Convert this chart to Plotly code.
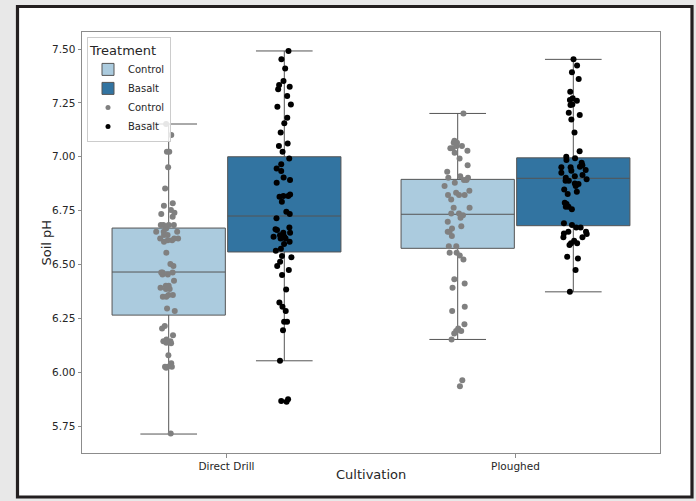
import plotly.graph_objects as go

categories = ["Direct Drill", "Ploughed"]
treatments = ["Control", "Basalt"]

# Box summary statistics (per cultivation)
control_q1 = [6.265, 6.575]
control_median = [6.465, 6.733]
control_q3 = [6.669, 6.895]
control_low = [5.713, 6.152]
control_high = [7.152, 7.201]

basalt_q1 = [6.558, 6.680]
basalt_median = [6.725, 6.900]
basalt_q3 = [7.000, 6.995]
basalt_low = [6.053, 6.373]
basalt_high = [7.491, 7.452]

# Individual soil pH samples (strip points)
dd_control = [7.152, 7.101, 7.023, 7.023, 6.951, 6.853, 6.784, 6.773, 6.753, 6.740,
              6.734, 6.722, 6.683, 6.683, 6.683, 6.683, 6.667, 6.652, 6.652, 6.652,
              6.637, 6.637, 6.621, 6.621, 6.621, 6.613, 6.613, 6.606, 6.555, 6.502,
              6.493, 6.463, 6.463, 6.463, 6.454, 6.454, 6.425, 6.401, 6.401, 6.392,
              6.386, 6.386, 6.358, 6.358, 6.350, 6.350, 6.296, 6.284, 6.214, 6.203,
              6.172, 6.152, 6.144, 6.144, 6.137, 6.134, 6.079, 6.041, 6.025, 6.025,
              6.025, 6.021, 5.716]
dd_basalt = [7.491, 7.452, 7.410, 7.352, 7.333, 7.325, 7.313, 7.282, 7.243, 7.232,
             7.181, 7.155, 7.112, 7.062, 7.050, 7.023, 6.992, 6.965, 6.946, 6.934,
             6.904, 6.892, 6.879, 6.825, 6.818, 6.818, 6.814, 6.791, 6.745, 6.734,
             6.714, 6.672, 6.664, 6.660, 6.647, 6.647, 6.636, 6.629, 6.629, 6.621,
             6.621, 6.606, 6.595, 6.573, 6.564, 6.539, 6.533, 6.513, 6.493, 6.474,
             6.451, 6.384, 6.323, 6.304, 6.284, 6.234, 6.234, 6.195, 6.053, 5.874,
             5.866, 5.863]
pl_control = [7.201, 7.074, 7.065, 7.065, 7.050, 7.050, 7.039, 7.039, 7.028, 7.019,
              6.992, 6.961, 6.930, 6.910, 6.903, 6.903, 6.892, 6.892, 6.879, 6.864,
              6.842, 6.833, 6.822, 6.822, 6.822, 6.802, 6.763, 6.763, 6.737, 6.737,
              6.729, 6.717, 6.698, 6.678, 6.667, 6.652, 6.652, 6.632, 6.585, 6.585,
              6.555, 6.555, 6.542, 6.523, 6.432, 6.412, 6.392, 6.304, 6.284, 6.222,
              6.203, 6.191, 6.191, 6.180, 6.152, 5.963, 5.935]
pl_basalt = [7.452, 7.423, 7.392, 7.361, 7.302, 7.271, 7.263, 7.260, 7.243, 7.240,
             7.204, 7.194, 7.173, 7.113, 7.026, 7.000, 6.993, 6.985, 6.972, 6.961,
             6.954, 6.951, 6.951, 6.938, 6.935, 6.926, 6.915, 6.910, 6.903, 6.895,
             6.889, 6.889, 6.876, 6.873, 6.864, 6.848, 6.838, 6.827, 6.787, 6.781,
             6.768, 6.768, 6.756, 6.691, 6.683, 6.672, 6.672, 6.652, 6.652, 6.644,
             6.641, 6.626, 6.626, 6.610, 6.598, 6.598, 6.590, 6.536, 6.528, 6.474,
             6.373]

y_ticks = [5.75, 6.00, 6.25, 6.50, 6.75, 7.00, 7.25, 7.50]
y_tick_labels = ["5.75", "6.00", "6.25", "6.50", "6.75", "7.00", "7.25", "7.50"]

box_colors = {"Control": "#abcbde", "Basalt": "#3274a1"}
dot_colors = {"Control": "#808080", "Basalt": "#000000"}
line_color = "#555555"
FONT = "DejaVu Sans"
TXT = "#262626"

fig = go.Figure()

stats = {
    "Control": (control_q1, control_median, control_q3, control_low, control_high),
    "Basalt": (basalt_q1, basalt_median, basalt_q3, basalt_low, basalt_high),
}
for t in treatments:
    q1, med, q3, lo, hi = stats[t]
    fig.add_trace(go.Box(
        x=categories, q1=q1, median=med, q3=q3, lowerfence=lo, upperfence=hi,
        orientation="v", name=t, offsetgroup=t, legendgroup="box" + t,
        fillcolor=box_colors[t], line=dict(color=line_color, width=1),
        whiskerwidth=0.5, boxpoints=False, showlegend=True,
    ))

points = {
    "Control": (dd_control, pl_control),
    "Basalt": (dd_basalt, pl_basalt),
}
for t in treatments:
    dd, pl = points[t]
    fig.add_trace(go.Box(
        x=[categories[0]] * len(dd) + [categories[1]] * len(pl),
        y=dd + pl, name=t, offsetgroup=t, showlegend=False,
        boxpoints="all", pointpos=0, jitter=0.26,
        fillcolor="rgba(0,0,0,0)", line=dict(color="rgba(0,0,0,0)", width=0),
        marker=dict(color=dot_colors[t], size=6, opacity=1, line=dict(width=0)),
        hoveron="points",
    ))

for t in treatments:
    fig.add_trace(go.Scatter(
        x=[None], y=[None], mode="markers", name=t,
        marker=dict(color=dot_colors[t], size=5), showlegend=True,
    ))

L, R, T, B = 82, 36, 32, 48
W, H = 696, 501
pw, ph = W - L - R, H - T - B

def px_x(p):
    return (p - L) / pw

def px_y(p):
    return (H - B - p) / ph

fig.add_shape(type="rect", xref="paper", yref="paper",
              x0=px_x(17.5), x1=px_x(692), y0=px_y(497), y1=px_y(6.5),
              fillcolor="white", line=dict(color="#231f20", width=3.2), layer="below")

fig.add_annotation(text="Soil pH", xref="paper", yref="paper",
                   x=px_x(46), y=0.5, xanchor="center", yanchor="middle",
                   textangle=-90, showarrow=False,
                   font=dict(size=13, family=FONT, color=TXT))
fig.add_annotation(text="Cultivation", xref="paper", yref="paper",
                   x=0.5, y=px_y(474), xanchor="center", yanchor="middle",
                   showarrow=False, font=dict(size=13, family=FONT, color=TXT))

fig.update_layout(
    width=W, height=H,
    margin=dict(l=L, r=R, t=T, b=B, pad=0),
    paper_bgcolor="#e8e8e8", plot_bgcolor="white",
    boxmode="group", boxgap=0.2, boxgroupgap=0.02,
    font=dict(family=FONT, color=TXT),
    legend=dict(
        title=dict(text="Treatment", font=dict(size=13, family=FONT, color=TXT)),
        font=dict(size=10, family=FONT, color=TXT),
        x=px_x(87), y=px_y(37), xanchor="left", yanchor="top",
        bgcolor="rgba(255,255,255,0.8)", bordercolor="#cccccc", borderwidth=1,
        traceorder="normal", tracegroupgap=0, itemwidth=30,
    ),
    xaxis=dict(
        type="category", categoryorder="array", categoryarray=categories,
        range=[-0.5, 1.5],
        tickfont=dict(size=10.5, family=FONT, color=TXT),
        showline=True, mirror=True, linecolor="#8c8c8c", linewidth=1,
        ticks="outside", ticklen=3.5, tickcolor="#8c8c8c", showgrid=False, zeroline=False,
    ),
    yaxis=dict(
        range=[5.625, 7.579],
        tickvals=y_ticks, ticktext=y_tick_labels,
        tickfont=dict(size=10.5, family=FONT, color=TXT),
        showline=True, mirror=True, linecolor="#8c8c8c", linewidth=1,
        ticks="outside", ticklen=3.5, tickcolor="#8c8c8c", showgrid=False, zeroline=False,
    ),
)

fig.write_html("out.html", config={"displayModeBar": False},
               post_script="document.body.style.margin='0';document.body.style.overflow='hidden';")
